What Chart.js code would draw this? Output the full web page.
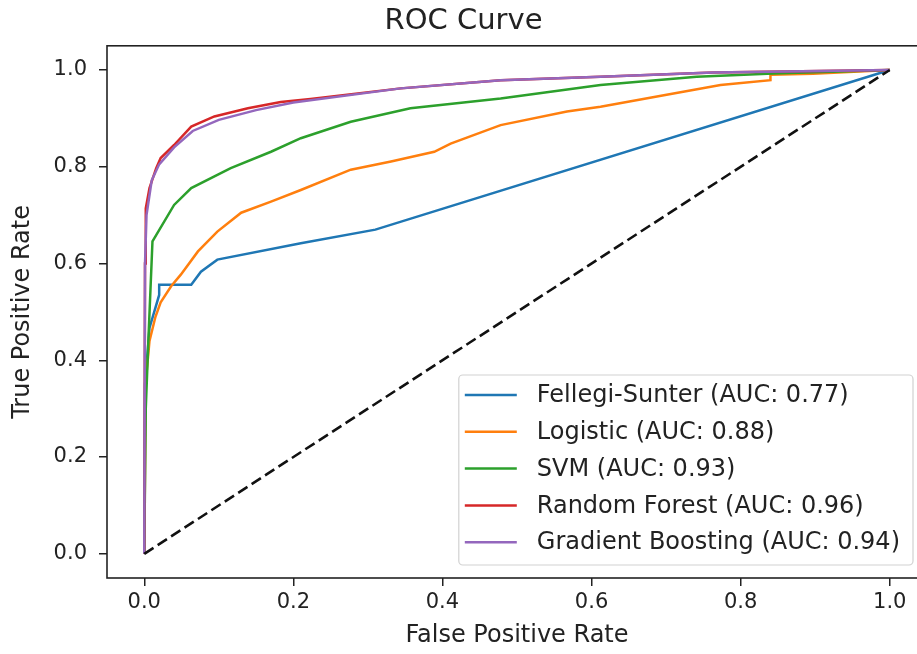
<!DOCTYPE html>
<html>
<head>
<meta charset="utf-8">
<script src="https://cdn.jsdelivr.net/npm/chart.js@4"></script>
<style>
  html, body { margin: 0; padding: 0; background: #fff; overflow: hidden; }
  #wrap { width: 917px; height: 654px; overflow: hidden; }
</style>
</head>
<body>
<div id="wrap"><canvas id="roc" width="940" height="654"></canvas></div>
<script>
// tick labels
var xTicks = [0.0, 0.2, 0.4, 0.6, 0.8, 1.0];
var yTicks = [0.0, 0.2, 0.4, 0.6, 0.8, 1.0];

// Fellegi-Sunter (AUC 0.77)
var fsFpr = [0, 0.001, 0.007, 0.02, 0.02, 0.063, 0.076, 0.098, 0.21, 0.31, 1];
var fsTpr = [0, 0.35, 0.467, 0.535, 0.556, 0.556, 0.583, 0.608, 0.642, 0.67, 1];

// Logistic (AUC 0.88)
var lgFpr = [0, 0.002, 0.007, 0.015, 0.022, 0.036, 0.049, 0.072, 0.098, 0.13, 0.17, 0.21, 0.277, 0.331, 0.389, 0.411, 0.478, 0.567, 0.612, 0.697, 0.773, 0.84, 0.84, 0.897, 1];
var lgTpr = [0, 0.356, 0.44, 0.49, 0.52, 0.553, 0.577, 0.625, 0.666, 0.705, 0.728, 0.752, 0.794, 0.811, 0.831, 0.848, 0.886, 0.914, 0.924, 0.948, 0.969, 0.979, 0.99, 0.992, 1];

// SVM (AUC 0.93)
var svFpr = [0, 0.002, 0.006, 0.011, 0.04, 0.063, 0.116, 0.17, 0.21, 0.277, 0.357, 0.478, 0.545, 0.612, 0.741, 0.844, 1];
var svTpr = [0, 0.30, 0.46, 0.646, 0.721, 0.756, 0.797, 0.831, 0.859, 0.893, 0.921, 0.941, 0.955, 0.969, 0.986, 0.993, 1];

// Random Forest (AUC 0.96)
var rfFpr = [0, 0.001, 0.002, 0.007, 0.016, 0.022, 0.04, 0.063, 0.094, 0.139, 0.183, 0.223, 0.344, 0.478, 0.612, 0.763, 1];
var rfTpr = [0, 0.60, 0.714, 0.756, 0.797, 0.818, 0.845, 0.883, 0.904, 0.921, 0.934, 0.94, 0.962, 0.979, 0.986, 0.995, 1];

// Gradient Boosting (AUC 0.94)
var gbFpr = [0, 0.001, 0.003, 0.01, 0.02, 0.04, 0.065, 0.1, 0.15, 0.2, 0.344, 0.478, 0.612, 0.763, 1];
var gbTpr = [0, 0.60, 0.70, 0.772, 0.805, 0.84, 0.874, 0.897, 0.917, 0.933, 0.962, 0.979, 0.986, 0.995, 1];

// chance line
var chanceFpr = [0, 1];
var chanceTpr = [0, 1];

function pts(xs, ys) {
  var out = [];
  for (var i = 0; i < xs.length; i++) out.push({x: xs[i], y: ys[i]});
  return out;
}

var FONT = "'DejaVu Sans', sans-serif";
var INK = '#222';

// box around the plot (matplotlib spines)
var frame = {
  id: 'frame',
  afterDatasetsDraw: function(chart) {
    var a = chart.chartArea, ctx = chart.ctx;
    ctx.save();
    ctx.strokeStyle = INK;
    ctx.lineWidth = 1.6;
    ctx.strokeRect(a.left, a.top, a.right - a.left, a.bottom - a.top);
    ctx.restore();
  }
};

// legend inside lower right of the axes
var boxLegend = {
  id: 'boxLegend',
  afterDraw: function(chart) {
    var a = chart.chartArea, ctx = chart.ctx;
    var sets = chart.data.datasets.filter(function(d) { return d.label; });
    ctx.save();
    ctx.font = '24px ' + FONT;
    var tw = 0;
    sets.forEach(function(d) { tw = Math.max(tw, ctx.measureText(d.label).width); });
    var rowH = 36.8;
    var right = a.right - 14, bottom = a.bottom - 13;
    var left = right - (78 + tw + 13);
    var top = bottom - 190;
    ctx.beginPath();
    ctx.roundRect(left, top, right - left, bottom - top, 4);
    ctx.fillStyle = 'rgba(255,255,255,0.8)';
    ctx.fill();
    ctx.strokeStyle = 'rgba(204,204,204,0.9)';
    ctx.lineWidth = 1.2;
    ctx.stroke();
    ctx.textBaseline = 'middle';
    ctx.fillStyle = INK;
    sets.forEach(function(d, i) {
      var y = top + 20 + i * rowH;
      ctx.beginPath();
      ctx.moveTo(left + 6, y);
      ctx.lineTo(left + 58, y);
      ctx.strokeStyle = d.borderColor;
      ctx.lineWidth = 2.5;
      ctx.stroke();
      ctx.fillText(d.label, left + 78, y + 1);
    });
    ctx.restore();
  }
};

new Chart(document.getElementById('roc'), {
  type: 'line',
  data: {
    datasets: [
      { label: '', data: pts(chanceFpr, chanceTpr), borderColor: '#111', borderDash: [11, 5], borderWidth: 2.6, order: 0 },
      { label: 'Fellegi-Sunter (AUC: 0.77)', data: pts(fsFpr, fsTpr), borderColor: '#1f77b4', borderWidth: 2.5, order: 5 },
      { label: 'Logistic (AUC: 0.88)', data: pts(lgFpr, lgTpr), borderColor: '#ff7f0e', borderWidth: 2.5, order: 4 },
      { label: 'SVM (AUC: 0.93)', data: pts(svFpr, svTpr), borderColor: '#2ca02c', borderWidth: 2.5, order: 3 },
      { label: 'Random Forest (AUC: 0.96)', data: pts(rfFpr, rfTpr), borderColor: '#d62728', borderWidth: 2.5, order: 2 },
      { label: 'Gradient Boosting (AUC: 0.94)', data: pts(gbFpr, gbTpr), borderColor: '#9467bd', borderWidth: 2.5, order: 1 }
    ]
  },
  options: {
    responsive: false,
    animation: false,
    events: [],
    elements: { point: { radius: 0 }, line: { tension: 0, fill: false } },
    layout: { padding: { left: 0, right: 13, top: 0, bottom: 0 } },
    scales: {
      x: {
        type: 'linear',
        min: -0.05,
        max: 1.05,
        afterBuildTicks: function(scale) { scale.ticks = xTicks.map(function(v) { return {value: v}; }); },
        afterFit: function(scale) { scale.height = 76; },
        border: { display: false },
        grid: { display: true, drawOnChartArea: false, drawTicks: true, tickLength: 8, color: INK, lineWidth: 1.5 },
        ticks: { color: INK, padding: 4, maxRotation: 0, font: { family: FONT, size: 21 }, callback: function(v) { return v.toFixed(1); } },
        title: { display: true, text: 'False Positive Rate', color: INK, padding: { top: 0, bottom: 4 }, font: { family: FONT, size: 24 } }
      },
      y: {
        type: 'linear',
        min: -0.05,
        max: 1.05,
        afterBuildTicks: function(scale) { scale.ticks = yTicks.map(function(v) { return {value: v}; }); },
        afterFit: function(scale) { scale.width = 107; },
        border: { display: false },
        grid: { display: true, drawOnChartArea: false, drawTicks: true, tickLength: 8, color: INK, lineWidth: 1.5 },
        ticks: { color: INK, padding: 12, font: { family: FONT, size: 21 }, callback: function(v) { return v.toFixed(1); } },
        title: { display: true, text: 'True Positive Rate', color: INK, padding: { top: 8, bottom: 0 }, font: { family: FONT, size: 24 } }
      }
    },
    plugins: {
      legend: { display: false },
      tooltip: { enabled: false },
      title: {
        display: true,
        text: 'ROC Curve',
        color: INK,
        font: { family: FONT, size: 29, weight: 'normal' },
        padding: { top: 4, bottom: 7 }
      }
    }
  },
  plugins: [frame, boxLegend]
});
</script>
</body>
</html>
